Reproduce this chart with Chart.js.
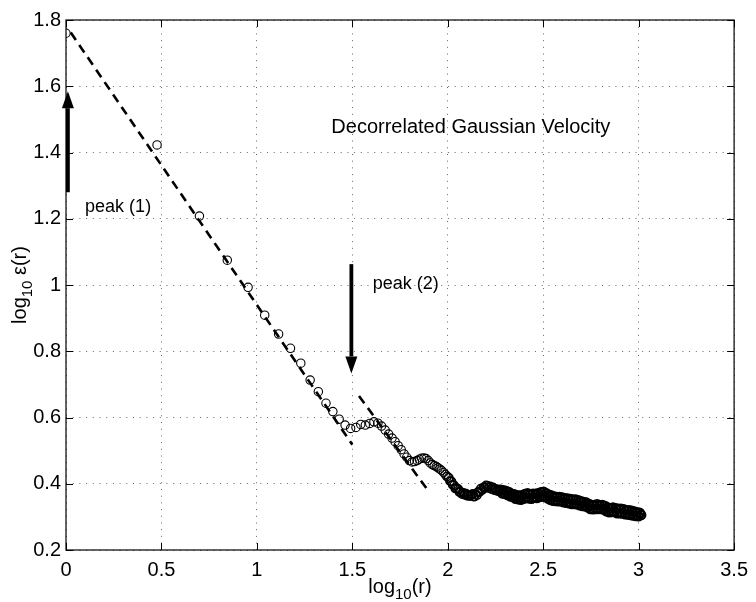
<!DOCTYPE html>
<html>
<head>
<meta charset="utf-8">
<script src="https://cdn.jsdelivr.net/npm/chart.js@4.4.0/dist/chart.umd.min.js"></script>
<style>
  body { margin: 0; background: #fff; }
  canvas { display: block; }
</style>
</head>
<body>
<canvas id="chart" width="756" height="602"></canvas>
<script>
// log10(r) and log10 eps(r)
const logR = [
  0, 0.477, 0.699, 0.845, 0.954, 1.041, 1.114, 1.176, 1.230, 1.279,
  1.322, 1.362, 1.398, 1.431, 1.462, 1.491, 1.519, 1.544, 1.568, 1.591,
  1.613, 1.634, 1.653, 1.672, 1.690, 1.708, 1.724, 1.740, 1.756, 1.771,
  1.785, 1.799, 1.813, 1.826, 1.839, 1.851, 1.863, 1.875, 1.886, 1.898,
  1.908, 1.919, 1.929, 1.940, 1.949, 1.959, 1.968, 1.978, 1.987, 1.996,
  2.005, 2.012, 2.019, 2.026, 2.033, 2.040, 2.047, 2.054, 2.061, 2.068,
  2.075, 2.082, 2.089, 2.096, 2.103, 2.110, 2.117, 2.124, 2.131, 2.138,
  2.145, 2.152, 2.159, 2.166, 2.173, 2.180, 2.187, 2.194, 2.201, 2.208,
  2.215, 2.222, 2.229, 2.236, 2.243, 2.250, 2.257, 2.264, 2.271, 2.278,
  2.285, 2.292, 2.299, 2.306, 2.313, 2.320, 2.327, 2.334, 2.341, 2.348,
  2.355, 2.362, 2.369, 2.376, 2.383, 2.390, 2.397, 2.404, 2.411, 2.418,
  2.425, 2.432, 2.439, 2.446, 2.453, 2.460, 2.467, 2.474, 2.481, 2.488,
  2.495, 2.502, 2.509, 2.516, 2.523, 2.530, 2.537, 2.544, 2.551, 2.558,
  2.565, 2.572, 2.579, 2.586, 2.593, 2.600, 2.607, 2.614, 2.621, 2.628,
  2.635, 2.642, 2.649, 2.656, 2.663, 2.670, 2.677, 2.684, 2.691, 2.698,
  2.705, 2.712, 2.719, 2.726, 2.733, 2.740, 2.747, 2.754, 2.761, 2.768,
  2.775, 2.782, 2.789, 2.796, 2.803, 2.810, 2.817, 2.824, 2.831, 2.838,
  2.845, 2.852, 2.859, 2.866, 2.873, 2.880, 2.887, 2.894, 2.901, 2.908,
  2.915, 2.922, 2.929, 2.936, 2.943, 2.950, 2.957, 2.964, 2.971, 2.978,
  2.985, 2.992, 2.999, 3.006, 3.013
];
const logEps = [
  1.760, 1.423, 1.208, 1.075, 0.993, 0.909, 0.852, 0.809, 0.764, 0.713,
  0.678, 0.643, 0.618, 0.595, 0.577, 0.567, 0.570, 0.579, 0.577, 0.582,
  0.587, 0.583, 0.574, 0.562, 0.550, 0.538, 0.527, 0.515, 0.503, 0.490,
  0.480, 0.470, 0.466, 0.467, 0.470, 0.474, 0.477, 0.478, 0.476, 0.470,
  0.463, 0.458, 0.455, 0.452, 0.448, 0.444, 0.440, 0.434, 0.428, 0.422,
  0.418, 0.408, 0.407, 0.397, 0.395, 0.386, 0.386, 0.384, 0.375, 0.375,
  0.369, 0.372, 0.367, 0.370, 0.364, 0.366, 0.363, 0.366, 0.369, 0.361,
  0.368, 0.365, 0.375, 0.375, 0.385, 0.381, 0.389, 0.387, 0.395, 0.393,
  0.387, 0.392, 0.384, 0.389, 0.381, 0.384, 0.379, 0.383, 0.378, 0.382,
  0.371, 0.380, 0.370, 0.378, 0.366, 0.375, 0.362, 0.370, 0.360, 0.368,
  0.355, 0.365, 0.353, 0.364, 0.352, 0.365, 0.355, 0.369, 0.357, 0.371,
  0.356, 0.368, 0.355, 0.370, 0.359, 0.370, 0.357, 0.371, 0.360, 0.374,
  0.362, 0.376, 0.361, 0.371, 0.356, 0.367, 0.352, 0.364, 0.349, 0.361,
  0.348, 0.360, 0.347, 0.360, 0.347, 0.358, 0.344, 0.356, 0.343, 0.355,
  0.341, 0.354, 0.339, 0.352, 0.339, 0.352, 0.338, 0.350, 0.335, 0.347,
  0.333, 0.345, 0.332, 0.343, 0.329, 0.339, 0.324, 0.336, 0.323, 0.336,
  0.324, 0.338, 0.324, 0.336, 0.324, 0.336, 0.322, 0.333, 0.317, 0.328,
  0.314, 0.326, 0.315, 0.328, 0.315, 0.326, 0.311, 0.324, 0.311, 0.324,
  0.310, 0.323, 0.308, 0.320, 0.307, 0.320, 0.306, 0.318, 0.304, 0.316,
  0.303, 0.314, 0.302, 0.312, 0.306
];

// dashed power-law fits
const fit1X = [0.025, 1.5];
const fit1Y = [1.762, 0.518];
const fit2X = [1.535, 1.895];
const fit2Y = [0.665, 0.381];

const xTicks = [0, 0.5, 1, 1.5, 2, 2.5, 3, 3.5];
const yTicks = [0.2, 0.4, 0.6, 0.8, 1, 1.2, 1.4, 1.6, 1.8];

const FONT = '"Liberation Sans", Arial, Helvetica, sans-serif';

// arrows [x, yFrom, yTo] and labels [text, x, y, size] in data coordinates
const arrows = [
  [0.01, 1.28, 1.585],
  [1.495, 1.063, 0.733]
];
const notes = [
  ['Decorrelated Gaussian Velocity', 1.39, 1.475, 20],
  ['peak (1)', 0.10, 1.236, 18],
  ['peak (2)', 1.607, 1.003, 18]
];

const toXY = (xs, ys) => xs.map((v, i) => ({ x: v, y: ys[i] }));

const overlay = {
  id: 'overlay',
  afterDatasetsDraw(chart) {
    const { ctx, chartArea: a, scales: { x, y } } = chart;
    ctx.save();
    ctx.strokeStyle = '#000';
    ctx.fillStyle = '#000';

    // box
    ctx.lineWidth = 1.2;
    ctx.strokeRect(a.left, a.top, a.right - a.left, a.bottom - a.top);

    // inward ticks on all four sides
    const tl = 7;
    ctx.lineWidth = 1;
    ctx.beginPath();
    xTicks.forEach(v => {
      const px = Math.round(x.getPixelForValue(v)) + 0.5;
      ctx.moveTo(px, a.bottom); ctx.lineTo(px, a.bottom - tl);
      ctx.moveTo(px, a.top); ctx.lineTo(px, a.top + tl);
    });
    yTicks.forEach(v => {
      const py = Math.round(y.getPixelForValue(v)) + 0.5;
      ctx.moveTo(a.left, py); ctx.lineTo(a.left + tl, py);
      ctx.moveTo(a.right, py); ctx.lineTo(a.right - tl, py);
    });
    ctx.stroke();

    // arrows
    arrows.forEach(([ax, y0, y1]) => {
      const px = x.getPixelForValue(ax);
      const p0 = y.getPixelForValue(y0);
      const p1 = y.getPixelForValue(y1);
      const dir = p1 < p0 ? -1 : 1;
      const head = 17, hw = 6;
      ctx.lineWidth = 3.8;
      ctx.beginPath();
      ctx.moveTo(px, p0);
      ctx.lineTo(px, p1 - dir * head);
      ctx.stroke();
      ctx.beginPath();
      ctx.moveTo(px, p1);
      ctx.lineTo(px - hw, p1 - dir * head);
      ctx.lineTo(px + hw, p1 - dir * head);
      ctx.closePath();
      ctx.fill();
    });

    // annotations
    ctx.textAlign = 'left';
    ctx.textBaseline = 'middle';
    notes.forEach(([t, nx, ny, size]) => {
      ctx.font = size + 'px ' + FONT;
      ctx.fillText(t, x.getPixelForValue(nx), y.getPixelForValue(ny));
    });

    // axis titles with subscript 10
    const drawSub = (parts, cx, cy) => {
      const big = '20px ' + FONT, small = '15px ' + FONT;
      ctx.font = big; const w1 = ctx.measureText(parts[0]).width;
      const w3 = ctx.measureText(parts[2]).width;
      ctx.font = small; const w2 = ctx.measureText(parts[1]).width;
      let sx = cx - (w1 + w2 + w3) / 2;
      ctx.textAlign = 'left';
      ctx.textBaseline = 'alphabetic';
      ctx.font = big; ctx.fillText(parts[0], sx, cy); sx += w1;
      ctx.font = small; ctx.fillText(parts[1], sx, cy + 6); sx += w2;
      ctx.font = big; ctx.fillText(parts[2], sx, cy);
    };
    drawSub(['log', '10', '(r)'], 400, 593);
    ctx.save();
    ctx.translate(26, 285);
    ctx.rotate(-Math.PI / 2);
    drawSub(['log', '10', ' \u03b5(r)'], 0, 0);
    ctx.restore();

    ctx.restore();
  }
};

const gridStyle = {
  color: 'rgba(0,0,0,0.6)',
  lineWidth: 1,
  drawTicks: false
};

// where the circles pile up, the outlines merge into a solid band
const ringWidth = c => {
  const v = c.raw ? c.raw.x : 0;
  return v > 2.27 ? 2.2 : (v > 1.99 ? 1.5 : 1.1);
};

new Chart(document.getElementById('chart'), {
  type: 'scatter',
  data: {
    datasets: [
      {
        data: toXY(fit1X, fit1Y),
        showLine: true,
        borderColor: '#000',
        borderWidth: 2.6,
        borderDash: [9, 6],
        pointRadius: 0,
        order: 0
      },
      {
        data: toXY(fit2X, fit2Y),
        showLine: true,
        borderColor: '#000',
        borderWidth: 2.6,
        borderDash: [9, 6],
        pointRadius: 0,
        order: 0
      },
      {
        data: toXY(logR, logEps),
        showLine: false,
        pointStyle: 'circle',
        pointRadius: 4.2,
        pointBorderWidth: ringWidth,
        borderColor: '#000',
        backgroundColor: 'rgba(0,0,0,0)',
        order: 1
      }
    ]
  },
  options: {
    responsive: false,
    animation: false,
    events: [],
    layout: { padding: { top: 20, right: 18, left: 0, bottom: 0 } },
    plugins: { legend: { display: false }, tooltip: { enabled: false } },
    scales: {
      x: {
        type: 'linear',
        min: 0, max: 3.5,
        afterBuildTicks: s => { s.ticks = xTicks.map(v => ({ value: v })); },
        afterFit: s => { s.height = 52; },
        grid: gridStyle,
        border: { display: false, dash: [1, 5.7] },
        ticks: {
          color: '#000',
          padding: 8,
          maxRotation: 0,
          autoSkip: false,
          font: { family: FONT, size: 20 },
          callback: v => String(+v.toFixed(2))
        }
      },
      y: {
        type: 'linear',
        min: 0.2, max: 1.8,
        afterBuildTicks: s => { s.ticks = yTicks.map(v => ({ value: v })); },
        afterFit: s => { s.width = 66; },
        grid: gridStyle,
        border: { display: false, dash: [1, 5.7] },
        ticks: {
          color: '#000',
          padding: 5,
          autoSkip: false,
          font: { family: FONT, size: 20 },
          callback: v => String(+v.toFixed(2))
        }
      }
    }
  },
  plugins: [overlay]
});
</script>
</body>
</html>
